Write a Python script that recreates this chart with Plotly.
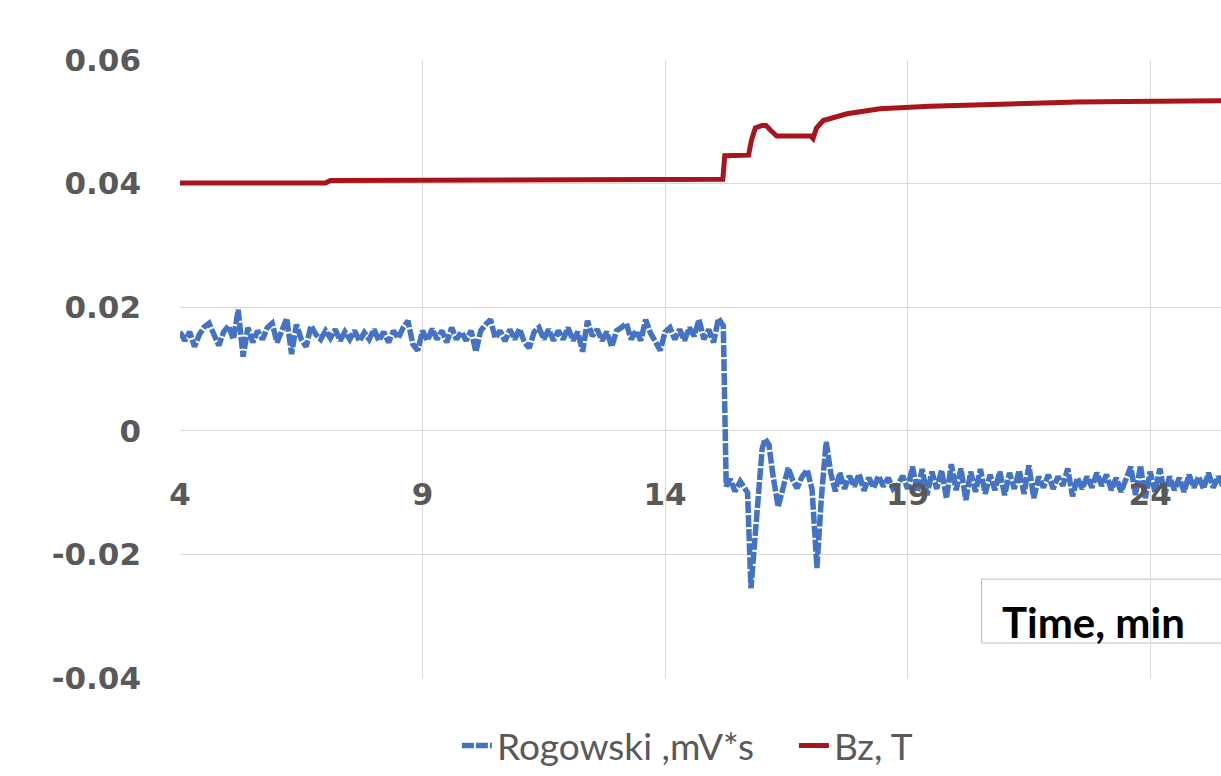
import numpy as np
import plotly.graph_objects as go

# ---------------- data ----------------
# Rogowski signal before the step (sampled every 0.1 min from 4.0 to 15.1)
rog_t_pre = np.round(np.arange(4.0, 15.15, 0.1), 2)
rog_v_pre = [
    0.0160, 0.0146, 0.0160, 0.0136, 0.0156, 0.0168, 0.0174, 0.0158, 0.0138, 0.0160,
    0.0170, 0.0148, 0.0196, 0.0120, 0.0167, 0.0143, 0.0162, 0.0148, 0.0167, 0.0174,
    0.0143, 0.0162, 0.0182, 0.0124, 0.0172, 0.0148, 0.0136, 0.0170, 0.0156, 0.0148,
    0.0162, 0.0150, 0.0164, 0.0146, 0.0160, 0.0148, 0.0162, 0.0145, 0.0159, 0.0148,
    0.0164, 0.0146, 0.0160, 0.0143, 0.0162, 0.0150, 0.0167, 0.0178, 0.0140, 0.0130,
    0.0162, 0.0146, 0.0165, 0.0148, 0.0162, 0.0143, 0.0167, 0.0148, 0.0160, 0.0146,
    0.0162, 0.0128, 0.0162, 0.0172, 0.0180, 0.0150, 0.0162, 0.0145, 0.0164, 0.0148,
    0.0165, 0.0143, 0.0134, 0.0160, 0.0167, 0.0148, 0.0164, 0.0146, 0.0162, 0.0148,
    0.0167, 0.0146, 0.0160, 0.0128, 0.0178, 0.0153, 0.0164, 0.0146, 0.0160, 0.0136,
    0.0162, 0.0167, 0.0174, 0.0148, 0.0162, 0.0146, 0.0180, 0.0158, 0.0146, 0.0130,
    0.0160, 0.0167, 0.0148, 0.0164, 0.0146, 0.0167, 0.0153, 0.0180, 0.0148, 0.0164,
    0.0143, 0.0182,
]
# Rogowski around the step and the two dips
rog_t_mid = [15.20, 15.26, 15.34, 15.44, 15.55, 15.65, 15.70, 15.77, 15.84, 15.92,
             16.00, 16.06, 16.14, 16.22, 16.33, 16.44, 16.54, 16.63, 16.72, 16.82,
             16.93, 17.03, 17.13, 17.22, 17.32, 17.42, 17.51]
rog_v_mid = [0.0170, -0.0090, -0.0078, -0.0098, -0.0082, -0.0092, -0.0100, -0.0255, -0.0180, -0.0095,
             -0.0030, -0.0013, -0.0022, -0.0070, -0.0123, -0.0090, -0.0060, -0.0080, -0.0093, -0.0075,
             -0.0063, -0.0095, -0.0222, -0.0110, -0.0018, -0.0070, -0.0098]
# Rogowski after the step (every 0.1 min from 17.6 to 25.5)
rog_t_post = np.round(np.arange(17.6, 25.55, 0.1), 2)
rog_v_post = [
    -0.0068, -0.0094, -0.0073, -0.0090, -0.0070, -0.0097, -0.0076, -0.0092, -0.0073, -0.0090,
    -0.0076, -0.0094, -0.0087, -0.0073, -0.0094, -0.0058, -0.0099, -0.0062, -0.0104, -0.0066,
    -0.0094, -0.0064, -0.0109, -0.0054, -0.0096, -0.0061, -0.0112, -0.0066, -0.0099, -0.0062,
    -0.0102, -0.0071, -0.0096, -0.0066, -0.0104, -0.0068, -0.0094, -0.0064, -0.0102, -0.0056,
    -0.0109, -0.0074, -0.0092, -0.0071, -0.0094, -0.0074, -0.0089, -0.0061, -0.0106, -0.0076,
    -0.0094, -0.0074, -0.0092, -0.0068, -0.0089, -0.0071, -0.0096, -0.0076, -0.0099, -0.0081,
    -0.0058, -0.0104, -0.0056, -0.0109, -0.0066, -0.0099, -0.0061, -0.0104, -0.0074, -0.0096,
    -0.0076, -0.0099, -0.0071, -0.0092, -0.0074, -0.0094, -0.0068, -0.0092, -0.0074, -0.0089,
]

bz_t = [4.0, 7.0, 7.1, 11.9, 12.0, 15.19, 15.23, 15.72, 15.78, 15.86,
        16.0, 16.08, 16.18, 16.30, 17.00, 17.05, 17.12, 17.26, 17.75, 18.43,
        19.46, 20.5, 21.5, 22.5, 23.5, 25.5]
bz_v = [0.0401, 0.0401, 0.0405, 0.0405, 0.0407, 0.0407, 0.0445, 0.0446, 0.0470, 0.0490,
        0.0494, 0.0494, 0.0486, 0.0477, 0.0477, 0.0473, 0.0490, 0.0502, 0.0513, 0.0521,
        0.0525, 0.0528, 0.0530, 0.0532, 0.0533, 0.0534]

x_ticks = [4, 9, 14, 19, 24]
y_ticks = [-0.04, -0.02, 0, 0.02, 0.04, 0.06]
y_tick_text = ["-0.04", "-0.02", "0", "0.02", "0.04", "0.06"]

series_names = ["Rogowski ,mV*s", "Bz, T"]
x_label = "Time, min"

# ---------------- figure ----------------
rog_t = list(rog_t_pre) + rog_t_mid + list(rog_t_post)
rog_v = rog_v_pre + rog_v_mid + rog_v_post

fig = go.Figure()
fig.add_trace(go.Scatter(x=rog_t, y=rog_v, mode="lines", name=series_names[0],
                         line=dict(color="#4472C4", width=5.5, dash="12px,2px")))
fig.add_trace(go.Scatter(x=bz_t, y=bz_v, mode="lines", name=series_names[1],
                         line=dict(color="#A8141A", width=5)))

tick_font = dict(family="DejaVu Sans", size=31, color="#595959", weight="bold")

fig.update_layout(
    width=1221, height=776,
    margin=dict(l=180, r=0, t=60, b=98, autoexpand=False),
    paper_bgcolor="white", plot_bgcolor="white",
    showlegend=True,
    legend=dict(orientation="h", x=0.266, xanchor="left", y=-0.11, yanchor="middle",
                font=dict(family="Lato", size=37, color="#595959"),
                entrywidth=292, entrywidthmode="pixels",
                bgcolor="rgba(0,0,0,0)"),
    xaxis=dict(range=[4, 25.46], tickvals=x_ticks, ticktext=[str(v) for v in x_ticks],
               showgrid=True, gridcolor="#d9d9d9", gridwidth=1, zeroline=False,
               showline=False, anchor="free", position=0.4, ticks="",
               ticklabelstandoff=42, tickfont=tick_font),
    yaxis=dict(range=[-0.04, 0.06], tickvals=y_ticks, ticktext=y_tick_text,
               showgrid=True, gridcolor="#d9d9d9", gridwidth=1, zeroline=False,
               showline=False, ticks="", ticklabelstandoff=38, tickfont=tick_font),
)

fig.add_shape(type="rect", xref="paper", yref="paper", x0=0.770, x1=1.05,
              y0=0.0566, y1=0.160, line=dict(color="#bfbfbf", width=1),
              fillcolor="rgba(0,0,0,0)", layer="below")
fig.add_annotation(xref="paper", yref="paper", x=0.7877, y=0.0906, xanchor="left",
                   yanchor="middle", text=x_label, showarrow=False,
                   font=dict(family="Lato", size=42, color="black", weight="bold"))

fig.write_html("out.html")
